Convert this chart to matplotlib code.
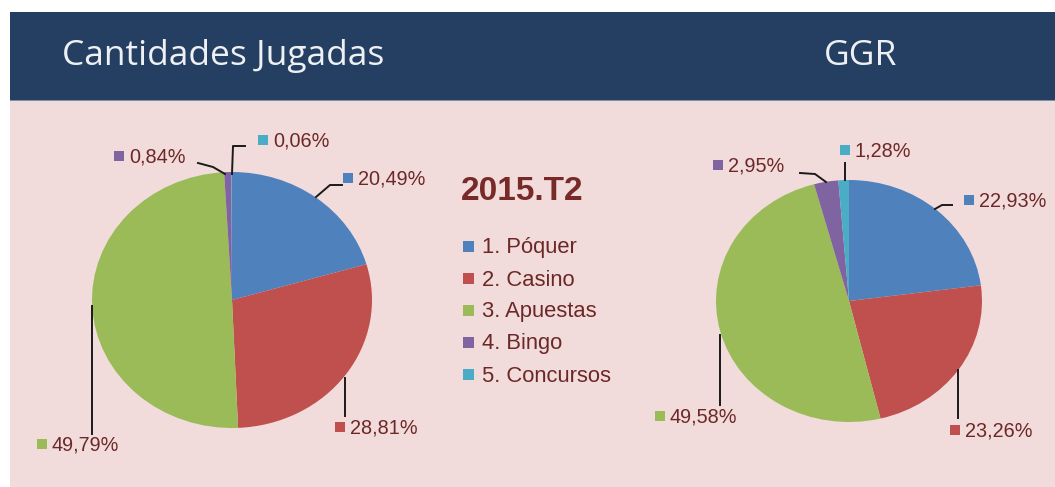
import matplotlib
matplotlib.use("Agg")
import matplotlib.pyplot as plt
import numpy as np
from matplotlib.patches import Rectangle

W, H = 1055, 487

# ---- data ----
categories = ["1. Póquer", "2. Casino", "3. Apuestas", "4. Bingo", "5. Concursos"]
cantidades = [20.49, 28.81, 49.79, 0.84, 0.06]
ggr = [22.93, 23.26, 49.58, 2.95, 1.28]
period = "2015.T2"
titles = ["Cantidades Jugadas", "GGR"]

colors = ["#4F81BD", "#C0504D", "#9BBB59", "#8064A2", "#4BACC6"]
bg_pink = "#F2DCDB"
band = "#243F62"
txt = "#6B2826"

fig = plt.figure(figsize=(W / 100, H / 100), dpi=100)
fig.patch.set_facecolor("white")

def fx(x):
    return x / W

def fy(y):
    return 1 - y / H

# background panels
fig.patches.append(Rectangle((fx(10), fy(H)), 1 - fx(10), fy(100) - fy(H),
                             transform=fig.transFigure, facecolor=bg_pink, edgecolor="none", zorder=-10))
fig.patches.append(Rectangle((fx(10), fy(100)), 1 - fx(10), fy(12) - fy(100),
                             transform=fig.transFigure, facecolor=band, edgecolor="none", zorder=-10))
fig.patches.append(Rectangle((fx(10), fy(101)), 1 - fx(10), fy(100) - fy(101),
                             transform=fig.transFigure, facecolor="#8090A8", edgecolor="none", zorder=-10))

fig.text(fx(62), fy(56), titles[0], color="#EEF0F3", fontsize=25.5, family="Open Sans",
         va="center", ha="left")
fig.text(fx(861), fy(56), titles[1], color="#EEF0F3", fontsize=25.5, family="Open Sans",
         va="center", ha="center")

# pie geometry (center x, center y, rx, ry) in pixels
pies = [
    dict(vals=cantidades, cx=232, cy=300, rx=140, ry=128,
         lines=[[(316, 197), (330, 185), (342, 185)],
                [(345, 378), (345, 416)],
                [(92, 306), (92, 434)],
                [(225, 174), (213, 167), (198, 163)],
                [(232, 174), (233, 146), (245, 146)]],
         marks=[(348, 178), (340, 427), (42, 444), (119, 156), (263, 140)]),
    dict(vals=ggr, cx=849, cy=301, rx=133, ry=121,
         lines=[[(935, 209), (942, 205), (952, 205)],
                [(958, 370), (958, 418)],
                [(720, 335), (720, 405)],
                [(826, 182), (815, 174), (800, 173)],
                [(845, 180), (845, 163)]],
         marks=[(969, 200), (955, 430), (660, 416), (718, 165), (845, 150)]),
]

for p in pies:
    cx, cy, rx, ry = p["cx"], p["cy"], p["rx"], p["ry"]
    ax = fig.add_axes([fx(cx - rx), fy(cy + ry), (2 * rx) / W, (2 * ry) / H])
    ax.patch.set_alpha(0)
    ax.set_zorder(1)
    ax.pie(p["vals"], colors=colors, startangle=90, counterclock=False, radius=1,
           wedgeprops=dict(linewidth=0))
    ax.set_aspect("auto")
    ax.set_xlim(-1, 1)
    ax.set_ylim(-1, 1)
    ax.axis("off")
    for v, col, pts, (mx, my) in zip(p["vals"], colors, p["lines"], p["marks"]):
        xs = [fx(a) for a, b in pts]
        ys = [fy(b) for a, b in pts]
        fig.lines.append(plt.Line2D(xs, ys, transform=fig.transFigure, color="#1a1a1a",
                                    lw=1.4, zorder=5))
        fig.patches.append(Rectangle((fx(mx - 5), fy(my + 5)), 10 / W, 10 / H,
                                     transform=fig.transFigure, facecolor=col,
                                     edgecolor="none", zorder=5))
        fig.text(fx(mx + 10), fy(my + 1), f"{v:.2f}%".replace(".", ","), color=txt,
                 fontsize=14.3, family="Liberation Sans", va="center", ha="left", zorder=5)

# central legend
fig.text(fx(461), fy(191), period, color="#772A28", fontsize=24, family="Liberation Sans",
         weight="bold", va="center", ha="left")
for i, (c, col) in enumerate(zip(categories, colors)):
    y = 247 + 32 * i
    fig.patches.append(Rectangle((fx(463), fy(y + 5)), 11 / W, 11 / H,
                                 transform=fig.transFigure, facecolor=col,
                                 edgecolor="none", zorder=5))
    fig.text(fx(482), fy(y + 1), c, color=txt, fontsize=15.8, family="Liberation Sans",
             va="center", ha="left")

fig.savefig("out.png", dpi=100, facecolor=fig.get_facecolor())
